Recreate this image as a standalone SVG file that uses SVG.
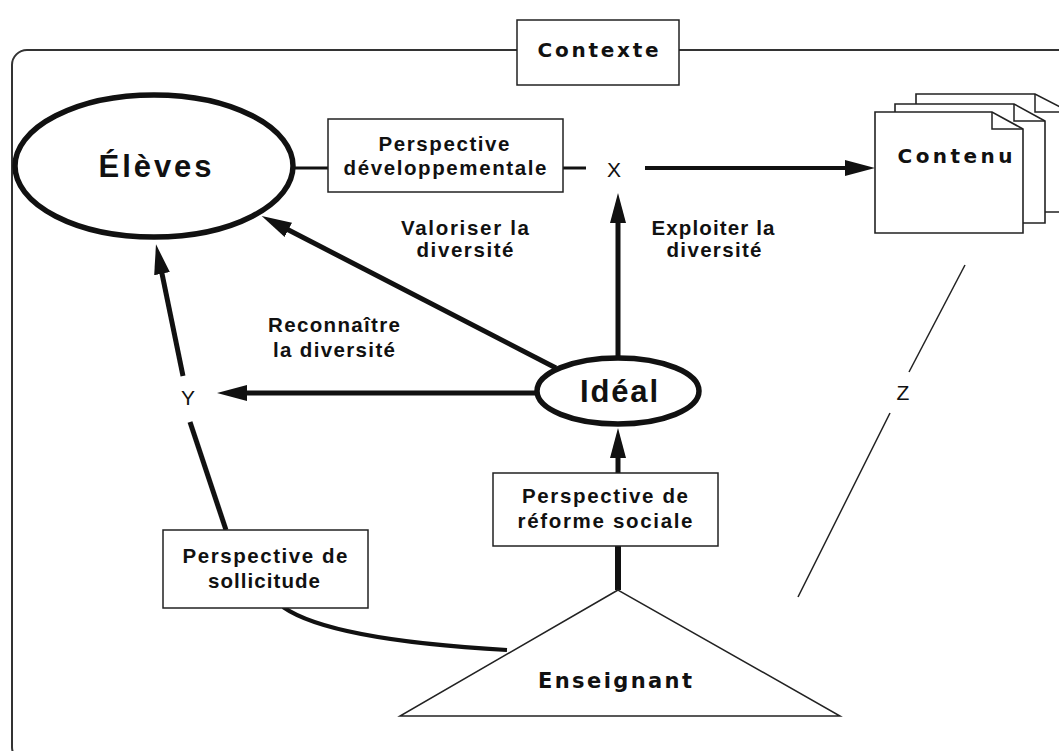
<svg xmlns="http://www.w3.org/2000/svg" width="1059" height="751" viewBox="0 0 1059 751">
  <style>
    text { font-family: "Liberation Sans", Arial, sans-serif; fill: #111; text-anchor: middle; }
    .lbl { font-size: 20.5px; font-weight: bold; }
    .big { font-size: 31px; font-weight: bold; }
    .wide { font-family: "DejaVu Sans", Verdana, sans-serif; font-size: 20px; font-weight: bold; }
    .pt { font-size: 21px; font-weight: normal; }
    .box { fill: #fff; stroke: #222; stroke-width: 1.5; }
    .page { fill: #fff; stroke: #222; stroke-width: 1.6; stroke-linejoin: miter; }
    .oval { fill: #fff; stroke: #111; stroke-width: 5.5; }
    .thin { fill: none; stroke: #222; stroke-width: 1.5; }
    .heavy { fill: none; stroke: #111; stroke-width: 5; }
    .med { fill: none; stroke: #111; stroke-width: 4; }
    .light { fill: none; stroke: #111; stroke-width: 3; }
  </style>
  <defs>
    <marker id="head" markerUnits="userSpaceOnUse" markerWidth="34" markerHeight="20" viewBox="0 -10 34 20" refX="15" refY="0" orient="auto">
      <path d="M0,-8 L30,0 L0,8 Z" fill="#111"/>
    </marker>
  </defs>

  <rect width="1059" height="751" fill="#fff"/>

  <!-- outer context frame -->
  <g id="frame">
    <rect x="12" y="50" width="1100" height="712" rx="15" ry="15" fill="none" stroke="#333" stroke-width="2"/>
  </g>

  <g id="contexte">
    <rect class="box" x="517" y="20" width="162" height="65"/>
    <text class="wide" x="598" y="57" textLength="121">Contexte</text>
  </g>

  <!-- connectors -->
  <g id="connectors">
    <line class="light" x1="295" y1="168" x2="328" y2="168"/>
    <line class="light" x1="563" y1="168" x2="586" y2="168"/>
    <line class="med" x1="645" y1="168" x2="860" y2="168" marker-end="url(#head)"/>
    <line class="heavy" x1="618" y1="357" x2="618" y2="208" marker-end="url(#head)"/>
    <line class="heavy" x1="556" y1="368" x2="275" y2="223" marker-end="url(#head)"/>
    <line class="heavy" x1="540" y1="393" x2="232" y2="393" marker-end="url(#head)"/>
    <line class="heavy" x1="183" y1="376" x2="159" y2="259" marker-end="url(#head)"/>
    <line class="heavy" x1="190" y1="422" x2="226" y2="530"/>
    <path class="med" d="M283,607 Q330,640 507,650"/>
    <line class="heavy" x1="618" y1="590" x2="618" y2="546" style="stroke-width:6"/>
    <line class="heavy" x1="618" y1="473" x2="618" y2="443" marker-end="url(#head)"/>
    <line class="thin" x1="965" y1="265" x2="909" y2="372"/>
    <line class="thin" x1="890" y1="413" x2="798" y2="597"/>
  </g>

  <g id="eleves">
    <ellipse class="oval" cx="154" cy="166" rx="139" ry="71"/>
    <text class="big" x="155" y="177" textLength="113">Élèves</text>
  </g>

  <g id="perspective-developpementale">
    <rect class="box" x="328" y="119" width="235" height="73"/>
    <text class="lbl" x="444" y="151" textLength="131">Perspective</text>
    <text class="lbl" x="445" y="175" textLength="203">développementale</text>
  </g>

  <g id="x-node">
    <text class="pt" x="614" y="177">X</text>
  </g>

  <g id="contenu">
    <path class="page" d="M916,94 H1035 L1070,112 V212 H916 Z"/>
    <path class="thin" d="M1035,94 V112 H1070"/>
    <path class="page" d="M895,104 H1014 L1045,121 V223 H895 Z"/>
    <path class="thin" d="M1014,104 V121 H1045"/>
    <path class="page" d="M875,112 H992 L1023,129 V233 H875 Z"/>
    <path class="thin" d="M992,112 V129 H1023"/>
    <text class="wide" x="955" y="163" textLength="115">Contenu</text>
  </g>

  <g id="valoriser">
    <text class="lbl" x="465" y="235" textLength="128">Valoriser la</text>
    <text class="lbl" x="465" y="257" textLength="97">diversité</text>
  </g>

  <g id="exploiter">
    <text class="lbl" x="713" y="235" textLength="123">Exploiter la</text>
    <text class="lbl" x="714" y="257" textLength="95">diversité</text>
  </g>

  <g id="reconnaitre">
    <text class="lbl" x="334" y="332" textLength="132">Reconnaître</text>
    <text class="lbl" x="334" y="357" textLength="122">la diversité</text>
  </g>

  <g id="y-node">
    <text class="pt" x="188" y="405">Y</text>
  </g>

  <g id="ideal">
    <ellipse class="oval" cx="618" cy="391" rx="81" ry="33"/>
    <text class="big" x="619" y="402" textLength="78">Idéal</text>
  </g>

  <g id="z-node">
    <text class="pt" x="903" y="400">Z</text>
  </g>

  <g id="perspective-reforme">
    <rect class="box" x="493" y="473" width="225" height="73"/>
    <text class="lbl" x="605" y="503" textLength="166">Perspective de</text>
    <text class="lbl" x="605" y="528" textLength="175">réforme sociale</text>
  </g>

  <g id="perspective-sollicitude">
    <rect class="box" x="163" y="530" width="205" height="78"/>
    <text class="lbl" x="265" y="563" textLength="165">Perspective de</text>
    <text class="lbl" x="264" y="588" textLength="112">sollicitude</text>
  </g>

  <g id="enseignant">
    <polygon points="618,590 400,716 840,716" fill="#fff" stroke="#222" stroke-width="1.5"/>
    <text class="wide" x="615" y="688" textLength="154" style="font-size:21px">Enseignant</text>
  </g>
</svg>
